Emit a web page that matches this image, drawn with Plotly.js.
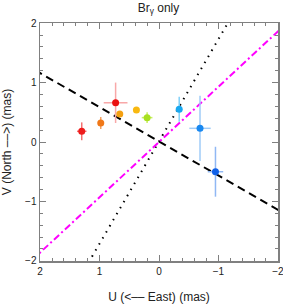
<!DOCTYPE html>
<html><head><meta charset="utf-8">
<script src="https://cdn.plot.ly/plotly-3.0.1.min.js"></script>
<style>body{margin:0;padding:0;background:#fff}#c{width:283px;height:304px}</style>
</head><body><div id="c"></div>
<script>
var U = [1.30, 0.98, 0.73, 0.66, 0.38, 0.20, -0.34, -0.69, -0.95];
var V = [0.18, 0.32, 0.66, 0.47, 0.54, 0.41, 0.55, 0.23, -0.50];
var UERR = [0.08, 0.04, 0.20, 0.03, 0.03, 0.09, 0.03, 0.18, 0.13];
var VERR = [0.15, 0.10, 0.34, 0.04, 0.04, 0.09, 0.21, 0.55, 0.42];
var COLORS = ['#ee1c1c','#f07818','#ea1010','#f4a010','#f8b810','#a8e020','#18a8f0','#1888f0','#1060e8'];
var ERRCOLORS = ['#f47070','#f4a060','#f8a8a8','#f8c860','#f8d870','#c8f060','#80d0f8','#a0ccf8','#90b8f4'];
var LINE_SLOPES = [0.575, -1.72, -0.93];
var LINE_OFFSETS = [0.01, 0.01, 0.0];
var LINE_COLORS = ['#000000','#000000','#ff00ff'];
var LINE_DASH = ['8px,5px','1.5px,5.5px','7px,3px,2px,3px'];
var TICKVALS = [2, 1, 0, -1, -2];
var TICKTEXT = ['2', '1', '0', '−1', '−2'];

var traces = [];
var xs = [-2.2, 2.2];
for (var k = 0; k < LINE_SLOPES.length; k++) {
  traces.push({x: xs, y: xs.map(function(x){return LINE_SLOPES[k]*x + LINE_OFFSETS[k];}),
    mode:'lines', line:{color:LINE_COLORS[k], width:2, dash:LINE_DASH[k]}, hoverinfo:'skip'});
}
for (var i = 0; i < U.length; i++) {
  traces.push({x:[U[i]], y:[V[i]], mode:'markers', type:'scatter',
    marker:{color:COLORS[i], size:7},
    error_x:{type:'data', array:[UERR[i]], color:ERRCOLORS[i], thickness:1.5, width:0},
    error_y:{type:'data', array:[VERR[i]], color:ERRCOLORS[i], thickness:1.5, width:0}});
}
var F = 'Liberation Sans, Arial, sans-serif';
var ax = {
  showgrid:false, zeroline:false, showline:true, linecolor:'#808080', linewidth:1.5,
  mirror:'ticks', ticks:'inside', ticklen:6, tickcolor:'#808080', tickwidth:1,
  tickvals:TICKVALS, ticktext:TICKTEXT, automargin:false, ticklabeloverflow:'allow',
  tickfont:{family:F, size:10, color:'#222'},
  minor:{dtick:0.2, ticks:'inside', ticklen:3, tickcolor:'#808080', tickwidth:1}
};
var layout = {
  width:283, height:304, showlegend:false,
  margin:{l:40, r:5, t:23, b:43},
  paper_bgcolor:'#fff', plot_bgcolor:'#fff',
  title:{text:'Br<sub>γ</sub> only', x:0.56, xanchor:'center', y:0.975, yanchor:'middle',
    font:{family:F, size:12, color:'#222'}},
  xaxis:Object.assign({}, ax, {range:[2.002,-2.002],
    title:{text:'U (<–– East) (mas)', standoff:22, font:{family:F, size:12, color:'#222'}}}),
  yaxis:Object.assign({}, ax, {range:[-2.002,2.002],
    title:{text:'V (North ––>) (mas)', standoff:12, font:{family:F, size:12, color:'#222'}}})
};
Plotly.newPlot('c', traces, layout, {displayModeBar:false, staticPlot:true});
</script></body></html>
